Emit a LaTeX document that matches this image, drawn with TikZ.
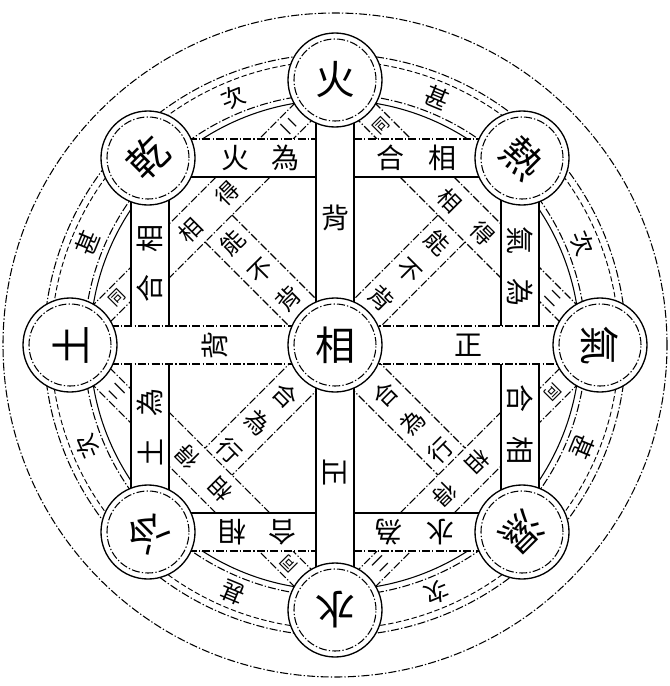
\documentclass[tikz,border=0pt]{standalone}
\usepackage{fontspec}
\setmainfont{Noto Sans CJK TC}
\begin{document}
\begin{tikzpicture}[x=0.75pt,y=-0.75pt,
  dd/.style={line width=0.8pt, dash pattern=on 6pt off 1.6pt on 1pt off 1.6pt},
  dsh/.style={line width=0.7pt, dash pattern=on 4pt off 2pt},
  thinline/.style={line width=0.8pt},
  boldline/.style={line width=1.8pt},
  qc/.style={circle, draw, line width=1pt, fill=white, minimum size=70.5pt, inner sep=0pt, font=\fontsize{30}{30}\selectfont},
  bt/.style={font=\fontsize{21}{21}\selectfont, inner sep=0pt},
  dt/.style={font=\fontsize{18}{18}\selectfont, inner sep=0pt},
  rt/.style={font=\fontsize{18}{18}\selectfont, inner sep=0pt},
  kt/.style={font=\fontsize{17}{17}\selectfont, inner sep=0pt},
  st/.style={font=\fontsize{12}{12}\selectfont, inner sep=0pt}]
\fill[white] (0,0) rectangle (670,686);
\useasboundingbox (0,0) rectangle (670,686);
\coordinate (C) at (335,345);
% outer circle and ring
\draw[dd] (C) circle[radius=249pt];
\draw[thinline] (C) circle[radius=183.75pt];
\draw[dd] (C) circle[radius=188.25pt];
\draw[dsh] (C) circle[radius=213pt];
\draw[dd] (C) circle[radius=218.25pt];
% diagonals
\draw[dd] (232,215) -- (465,448);
\draw[dd] (205,242) -- (438,475);
\draw[dd] (438,215) -- (205,448);
\draw[dd] (465,242) -- (232,475);
% corner strips
\draw[dd] (216,177) -- (169,224); \draw[dd] (270,177) -- (169,278);
\draw[dd] (454,177) -- (501,224); \draw[dd] (400,177) -- (501,278);
\draw[dd] (454,513) -- (501,466); \draw[dd] (400,513) -- (501,412);
\draw[dd] (216,513) -- (169,466); \draw[dd] (270,513) -- (169,412);
% small strips by the elements
\draw[dd] (365,93) -- (411,139); \draw[dd] (345,107) -- (377,139);
\draw[dd] (305,93) -- (259,139); \draw[dd] (325,107) -- (293,139);
\draw[dd] (580,308) -- (539,267); \draw[dd] (570,332) -- (539,301);
\draw[dd] (570,358) -- (539,389); \draw[dd] (580,382) -- (539,423);
\draw[dd] (345,583) -- (377,551); \draw[dd] (365,597) -- (411,551);
\draw[dd] (325,583) -- (293,551); \draw[dd] (305,597) -- (259,551);
\draw[dd] (90,308) -- (131,267); \draw[dd] (100,332) -- (131,301);
\draw[dd] (100,358) -- (131,389); \draw[dd] (90,382) -- (131,423);
% bar fills
\fill[white] (148,139) rectangle (522,177);
\fill[white] (148,513) rectangle (522,551);
\fill[white] (70,326) rectangle (600,364);
\fill[white] (316,80) rectangle (354,610);
\fill[white] (131,158) rectangle (169,532);
\fill[white] (501,158) rectangle (539,532);
% horizontal bar edges
\draw[dd] (148,139) -- (316,139); \draw[thinline] (148,177) -- (316,177);
\draw[dd] (354,139) -- (522,139); \draw[thinline] (354,177) -- (522,177);
\draw[thinline] (148,513) -- (316,513); \draw[dd] (148,551) -- (316,551);
\draw[thinline] (354,513) -- (522,513); \draw[dd] (354,551) -- (522,551);
\draw[dd] (70,326) -- (600,326); \draw[dd] (70,364) -- (600,364);
% vertical bar edges
\draw[boldline] (316,80) -- (316,610); \draw[boldline] (354,80) -- (354,610);
\draw[boldline] (131,158) -- (131,326); \draw[boldline] (131,364) -- (131,532);
\draw[boldline] (169,158) -- (169,326); \draw[boldline] (169,364) -- (169,532);
\draw[boldline] (501,158) -- (501,326); \draw[boldline] (501,364) -- (501,532);
\draw[boldline] (539,158) -- (539,326); \draw[boldline] (539,364) -- (539,532);
% circles
\node[qc] (F) at (335,80) {火};
\node[qc, rotate=-45] (H) at (522,158) {熱};
\node[qc, rotate=-90] (Q) at (600,345) {氣};
\node[qc, rotate=-135] (S) at (522,532) {濕};
\node[qc, rotate=180] (W) at (335,610) {水};
\node[qc, rotate=135] (L) at (148,532) {冷};
\node[qc, rotate=90] (T) at (70,345) {土};
\node[qc, rotate=45] (D) at (148,158) {乾};
\node[qc] (X) at (335,345) {相};
\foreach \n in {F,H,Q,S,W,L,T,D,X} \draw[dd] (\n) circle[radius=30.75pt];
% ring texts
\node[rt, rotate=-22.5] (r1) at (437,98) {甚};
\node[rt, rotate=-67.5] (r2) at (582,243) {次};
\node[rt, rotate=-112.5] (r3) at (582,447) {甚};
\node[rt, rotate=-157.5] (r4) at (437,592) {次};
\node[rt, rotate=157.5] (r5) at (233,592) {甚};
\node[rt, rotate=112.5] (r6) at (88,447) {次};
\node[rt, rotate=67.5] (r7) at (88,243) {甚};
\node[rt, rotate=22.5] (r8) at (233,98) {次};
% top bar
\node[bt] (t1) at (235,158) {火};
\node[bt] (t2) at (285,158) {為};
\node[bt] (t3) at (390,158) {合};
\node[bt] (t4) at (442,158) {相};
% bottom bar
\node[bt, rotate=180] (b1) at (232,532) {相};
\node[bt, rotate=180] (b2) at (282,532) {合};
\node[bt, rotate=180] (b3) at (388,532) {為};
\node[bt, rotate=180] (b4) at (440,532) {水};
% left strip
\node[bt, rotate=90] (l1) at (150,238) {相};
\node[bt, rotate=90] (l2) at (150,288) {合};
\node[bt, rotate=90] (l3) at (150,402) {為};
\node[bt, rotate=90] (l4) at (150,452) {土};
% right strip
\node[bt, rotate=-90] (g1) at (520,240) {氣};
\node[bt, rotate=-90] (g2) at (520,292) {為};
\node[bt, rotate=-90] (g3) at (520,398) {合};
\node[bt, rotate=-90] (g4) at (520,450) {相};
% cross bars
\node[bt, rotate=90] (m1) at (215,345) {背};
\node[bt] (m2) at (468,345) {正};
\node[bt] (v1) at (335,218) {背};
\node[bt, rotate=-90] (v2) at (335,472) {正};
% diagonals text
\node[dt, rotate=45] (a1) at (233,243) {能};
\node[dt, rotate=45] (a2) at (261,271) {不};
\node[dt, rotate=45] (a3) at (289,299) {背};
\node[dt, rotate=-45] (c1) at (437,243) {能};
\node[dt, rotate=-45] (c2) at (409,271) {不};
\node[dt, rotate=-45] (c3) at (381,299) {背};
\node[dt, rotate=-45] (e1) at (285,395) {合};
\node[dt, rotate=-45] (e2) at (257,423) {為};
\node[dt, rotate=-45] (e3) at (229,451) {行};
\node[dt, rotate=45] (f1) at (385,395) {合};
\node[dt, rotate=45] (f2) at (413,423) {為};
\node[dt, rotate=45] (f3) at (441,451) {行};
% corner strips text
\node[kt, rotate=45] (k1) at (190,230) {相};
\node[kt, rotate=45] (k2) at (227,193) {得};
\node[kt, rotate=-45] (k3) at (450,200) {相};
\node[kt, rotate=-45] (k4) at (483,233) {得};
\node[kt, rotate=-135] (k5) at (478,462) {相};
\node[kt, rotate=-135] (k6) at (445,495) {得};
\node[kt, rotate=135] (k7) at (220,490) {相};
\node[kt, rotate=135] (k8) at (187,457) {得};
% small element strips text
\node[st, rotate=45] (s1) at (381,126) {同};
\node[st, rotate=-45] (s2) at (289,126) {二};
\node[st, rotate=-45] (s3) at (553,298) {二};
\node[st, rotate=-135] (s4) at (553,392) {同};
\node[st, rotate=-135] (s5) at (381,564) {二};
\node[st, rotate=135] (s6) at (289,564) {同};
\node[st, rotate=45] (s7) at (117,298) {同};
\node[st, rotate=135] (s8) at (117,392) {二};
\end{tikzpicture}
\end{document}
